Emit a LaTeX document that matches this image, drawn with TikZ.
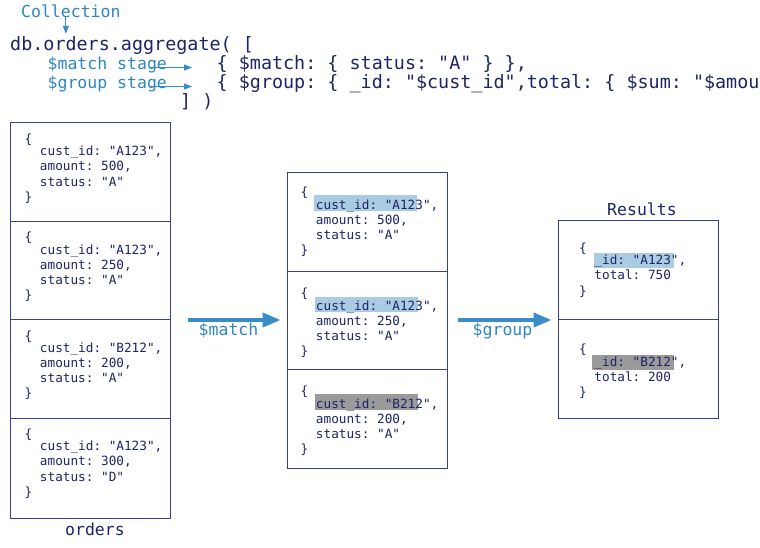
\documentclass[tikz,border=0pt]{standalone}
\usepackage{fontspec}
\setmonofont{DejaVu Sans Mono}
\usetikzlibrary{arrows.meta,positioning}
\definecolor{navytext}{HTML}{1E2466}
\definecolor{boxline}{HTML}{3A3F8C}
\definecolor{labelblue}{HTML}{2E86C1}
\definecolor{arrowblue}{HTML}{3A8CC8}
\definecolor{hlblue}{HTML}{A9CCE3}
\definecolor{hlgray}{HTML}{9A9A9A}
\newcommand{\ind}{\hspace*{1.204em}}
\tikzstyle{code} = [
    font=\ttfamily\fontsize{18.4}{20}\selectfont,
    text=navytext,
    inner sep=0pt,
    anchor=base west
]
\tikzstyle{note} = [
    font=\ttfamily\fontsize{16.5}{18}\selectfont,
    text=labelblue,
    inner sep=0pt,
    anchor=base west
]
\tikzstyle{title} = [
    font=\ttfamily\fontsize{16.5}{18}\selectfont,
    text=navytext,
    inner sep=0pt,
    anchor=base
]
\tikzstyle{doc} = [
    font=\ttfamily\fontsize{12.7}{15.2}\selectfont,
    text=navytext,
    inner sep=0pt,
    align=left,
    anchor=north west
]
\tikzstyle{coll} = [
    draw=boxline,
    line width=0.9pt,
    minimum width=160pt,
    inner sep=0pt
]
\tikzstyle{divider} = [
    draw=boxline,
    line width=0.9pt
]
\tikzstyle{tinyarrow} = [
    -{Triangle[length=8pt,width=6pt]},
    draw=arrowblue,
    line width=1pt
]
\tikzstyle{bigarrow} = [
    -{Triangle[length=18pt,width=14pt]},
    draw=arrowblue,
    line width=4pt
]

\begin{document}
\begin{tikzpicture}[x=1pt, y=-1pt]
        \useasboundingbox (0,0) rectangle (760,547);
        \clip (0,0) rectangle (760,547);

        % Query
        \node[note] (coll) at (21,17) {Collection};
        \node[code] (db) at (10,50) {db.orders.aggregate( [};
        \node[code] (mcode) at (216.5,69) {\{ \$match: \{ status: "A" \} \},};
        \node[code] (gcode) at (216.5,88) {\{ \$group: \{ \_id: "\$cust\_id",total: \{ \$sum: "\$amount" \} \} \}};
        \node[code] (close) at (180,107) {] )};
        \node[note] (mlbl) at (47.5,69) {\$match stage};
        \node[note] (glbl) at (47.5,88) {\$group stage};
        \draw[tinyarrow, shorten >=2pt] ([xshift=-5pt]coll.south) -- ([xshift=-5pt]coll.south |- db.north);
        \draw[tinyarrow, shorten >=24.5pt] ([xshift=-17.5pt, yshift=-3pt]mlbl.east) -- ([yshift=-3pt]mlbl.east -| mcode.west);
        \draw[tinyarrow, shorten >=24.5pt] ([xshift=-17.5pt, yshift=-3pt]glbl.east) -- ([yshift=-3pt]glbl.east -| gcode.west);

        % Collections
        \node[coll, minimum height=396pt] (orders) at (90,320) {};
        \node[coll, minimum height=296pt] (matched) at (367,320) {};
        \node[coll, minimum height=198pt] (results) at (638,319) {};
        \foreach \y in {221,319.5,418.5}
            \draw[divider] (orders.west |- 0,\y) -- (orders.east |- 0,\y);
        \foreach \y in {271,369.5}
            \draw[divider] (matched.west |- 0,\y) -- (matched.east |- 0,\y);
        \draw[divider] (results.west) -- (results.east);
        \node[title] (olbl) at (95,535) {orders};
        \node[title] (rlbl) at (642,215) {Results};

        % Highlights
        \fill[hlblue] (314,195) rectangle (417,211);
        \fill[hlblue] (315,297) rectangle (418,312);
        \fill[hlgray] (315,394) rectangle (418,410);
        \fill[hlblue] (594,253) rectangle (674,268);
        \fill[hlgray] (592,355) rectangle (674,370);

        % Documents
        \node[doc] (o1) at (24.5,133.7) {\{\\[-3pt]\ind cust\_id: "A123",\\\ind amount: 500,\\\ind status: "A"\\\}};
        \node[doc] (o2) at (24.5,232) {\{\\[-3pt]\ind cust\_id: "A123",\\\ind amount: 250,\\\ind status: "A"\\\}};
        \node[doc] (o3) at (24.5,330.3) {\{\\[-3pt]\ind cust\_id: "B212",\\\ind amount: 200,\\\ind status: "A"\\\}};
        \node[doc] (o4) at (24.5,428.7) {\{\\[-3pt]\ind cust\_id: "A123",\\\ind amount: 300,\\\ind status: "D"\\\}};
        \node[doc] (m1) at (300.5,187) {\{\\[-3pt]\ind cust\_id: "A123",\\\ind amount: 500,\\\ind status: "A"\\\}};
        \node[doc] (m2) at (300.5,288) {\{\\[-3pt]\ind cust\_id: "A123",\\\ind amount: 250,\\\ind status: "A"\\\}};
        \node[doc] (m3) at (300.5,386) {\{\\[-3pt]\ind cust\_id: "B212",\\\ind amount: 200,\\\ind status: "A"\\\}};
        \node[doc] (r1) at (579,242.7) {\{\\[-3pt]\ind \_id: "A123",\\\ind total: 750\\\}};
        \node[doc] (r2) at (579,344) {\{\\[-3pt]\ind \_id: "B212",\\\ind total: 200\\\}};

        % Stages
        \draw[bigarrow, shorten <=18pt, shorten >=6pt] (orders.east) -- (matched.west)
            node[note, anchor=base, midway, yshift=-15pt] {\$match};
        \draw[bigarrow, shorten <=11pt, shorten >=6pt] (matched.east) -- (matched.east -| results.west)
            node[note, anchor=base, midway, yshift=-15pt] {\$group};
    \end{tikzpicture}
\end{document}
